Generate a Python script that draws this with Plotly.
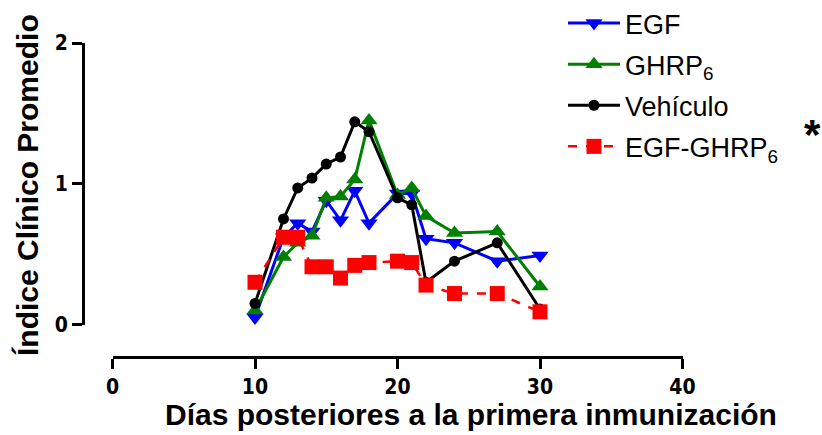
import plotly.graph_objects as go

W, H = 822, 435

dias_egf = [10, 12, 13, 14, 15, 16, 17, 18, 20, 21, 22, 24, 27, 30]
egf = [0.05, 0.62, 0.72, 0.66, 0.88, 0.74, 0.95, 0.72, 0.93, 0.93, 0.61, 0.58, 0.45, 0.49]

dias_ghrp = [10, 12, 13, 14, 15, 16, 17, 18, 20, 21, 22, 24, 27, 30]
ghrp = [0.10, 0.48, 0.58, 0.63, 0.90, 0.91, 1.03, 1.45, 0.92, 0.97, 0.77, 0.65, 0.66, 0.27]

dias_veh = [10, 12, 13, 14, 15, 16, 17, 18, 20, 21, 22, 24, 27, 30]
vehiculo = [0.15, 0.75, 0.97, 1.04, 1.14, 1.19, 1.44, 1.37, 0.90, 0.85, 0.30, 0.45, 0.58, 0.11]

dias_comb = [10, 12, 13, 14, 15, 16, 17, 18, 20, 21, 22, 24, 27, 30]
egf_ghrp = [0.30, 0.62, 0.62, 0.41, 0.41, 0.33, 0.42, 0.44, 0.45, 0.44, 0.28, 0.22, 0.22, 0.09]

x_ticks = [0, 10, 20, 30, 40]
y_ticks = [0, 1, 2]

FONT = "Liberation Sans"
TICKFONT = "Liberation Sans Narrow, DejaVu Sans Condensed, Liberation Sans"

fig = go.Figure()
fig.add_trace(go.Scatter(x=dias_egf, y=egf, name="EGF", mode="lines+markers", legendgroup="a",
                         line=dict(color="#0000FF", width=3),
                         marker=dict(symbol="triangle-down", size=15, color="#0000FF"),
                         cliponaxis=False))
fig.add_trace(go.Scatter(x=dias_ghrp, y=ghrp, name="GHRP<sub>6</sub>", mode="lines+markers", legendgroup="b",
                         line=dict(color="#008000", width=3),
                         marker=dict(symbol="triangle-up", size=15, color="#008000"),
                         cliponaxis=False))
fig.add_trace(go.Scatter(x=dias_veh, y=vehiculo, name="Vehículo", mode="lines+markers", legendgroup="c",
                         line=dict(color="#000000", width=3),
                         marker=dict(symbol="circle", size=11, color="#000000"),
                         cliponaxis=False))
fig.add_trace(go.Scatter(x=dias_comb, y=egf_ghrp, name="EGF-GHRP<sub>6</sub>", mode="lines+markers", legendgroup="d",
                         line=dict(color="#FF0000", width=2.5, dash="dash"),
                         marker=dict(symbol="square", size=15, color="#FF0000"),
                         cliponaxis=False))

x0, x1 = 112.5, 682.5
ytop, ybot = 43, 324.5
yaxis_x = 83
xaxis_y = 357

axis_common = dict(showline=True, linecolor="black", linewidth=3,
                   ticks="outside", ticklen=10, tickwidth=3, tickcolor="black",
                   showgrid=False, zeroline=False, automargin=False,
                   tickfont=dict(family=TICKFONT, size=21, weight="bold", color="black"))

fig.update_layout(
    width=W, height=H,
    margin=dict(l=0, r=0, t=0, b=0, autoexpand=False),
    paper_bgcolor="white", plot_bgcolor="white",
    font=dict(family=FONT, color="black"),
    xaxis=dict(domain=[x0 / W, x1 / W], range=[0, 40], tickvals=x_ticks,
               anchor="free", position=1 - xaxis_y / H, **axis_common),
    yaxis=dict(domain=[1 - ybot / H, 1 - ytop / H], range=[0, 2], tickvals=y_ticks,
               anchor="free", position=yaxis_x / W, **axis_common),
    legend=dict(x=563 / W, y=1 + 1 / H, xanchor="left", yanchor="top",
                font=dict(family=FONT, size=27, color="black"),
                bgcolor="rgba(0,0,0,0)", tracegroupgap=3, itemsizing="trace",
                itemwidth=52),
    showlegend=True,
)

fig.add_annotation(x=471 / W, y=1 - 414 / H, xref="paper", yref="paper",
                   text="Días posteriores a la primera inmunización", showarrow=False,
                   font=dict(family=FONT, size=30, weight="bold", color="black"),
                   xanchor="center", yanchor="middle")
fig.add_annotation(x=27 / W, y=1 - 185 / H, xref="paper", yref="paper",
                   text="Índice Clínico Promedio", showarrow=False, textangle=-90,
                   font=dict(family=FONT, size=30, weight="bold", color="black"),
                   xanchor="center", yanchor="middle")
fig.add_annotation(x=812 / W, y=1 - 134 / H, xref="paper", yref="paper",
                   text="*", showarrow=False,
                   font=dict(family=FONT, size=42, weight="bold", color="black"),
                   xanchor="center", yanchor="middle")

fig.write_html("out.html", config={"displayModeBar": False},
               post_script="document.body.style.margin='0';document.body.style.padding='0';")
